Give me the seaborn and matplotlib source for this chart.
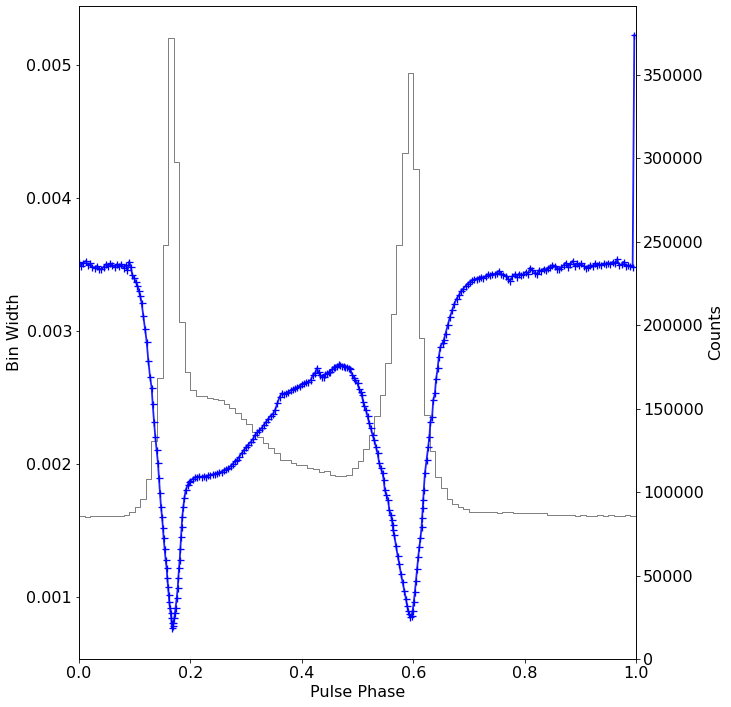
import numpy as np
import pandas as pd
import seaborn as sns
import matplotlib.pyplot as plt

# gray step curve: bin width in 100 phase bins
bin_edges = np.linspace(0, 1, 101)
bin_width = [0.00161, 0.00160, 0.00161, 0.00161, 0.00161, 0.00161, 0.00161, 0.00161, 0.00162, 0.00164,
             0.00168, 0.00174, 0.00189, 0.00217, 0.00265, 0.00365, 0.00520, 0.00427, 0.00307, 0.00269,
             0.00256, 0.00251, 0.00251, 0.00250, 0.00249, 0.00248, 0.00245, 0.00242, 0.00238, 0.00234,
             0.00230, 0.00224, 0.00220, 0.00216, 0.00212, 0.00208, 0.00203, 0.00203, 0.00201, 0.00199,
             0.00199, 0.00197, 0.00196, 0.00194, 0.00195, 0.00192, 0.00191, 0.00191, 0.00192, 0.00197,
             0.00202, 0.00211, 0.00222, 0.00236, 0.00252, 0.00276, 0.00313, 0.00365, 0.00434, 0.00494,
             0.00422, 0.00295, 0.00237, 0.00210, 0.00190, 0.00182, 0.00174, 0.00170, 0.00168, 0.00166,
             0.00164, 0.00164, 0.00164, 0.00164, 0.00164, 0.00163, 0.00164, 0.00164, 0.00163, 0.00163,
             0.00163, 0.00163, 0.00163, 0.00163, 0.00162, 0.00162, 0.00162, 0.00162, 0.00162, 0.00161,
             0.00162, 0.00161, 0.00161, 0.00162, 0.00161, 0.00162, 0.00161, 0.00161, 0.00162, 0.00161]

# blue curve: counts per phase bin
phase = [0.000, 0.004, 0.008, 0.012, 0.016, 0.020, 0.024, 0.028, 0.032, 0.036,
         0.040, 0.044, 0.048, 0.052, 0.056, 0.060, 0.064, 0.068, 0.072, 0.076,
         0.080, 0.084, 0.087, 0.090, 0.093, 0.0957, 0.0987, 0.1018, 0.1047, 0.1077,
         0.1100, 0.1125, 0.1155, 0.1185, 0.1215, 0.1245, 0.1275, 0.1305, 0.1323, 0.1347,
         0.1370, 0.1395, 0.1418, 0.1436, 0.1454, 0.1472, 0.1490, 0.1508, 0.1520, 0.1538,
         0.1556, 0.1574, 0.1586, 0.1598, 0.1610, 0.1621, 0.1634, 0.1646, 0.1657, 0.1664,
         0.1670, 0.1682, 0.1694, 0.1712, 0.1723, 0.1736, 0.1754, 0.1772, 0.1783, 0.1795,
         0.1808, 0.1819, 0.1831, 0.1843, 0.1855, 0.1873, 0.1891, 0.1916, 0.1951, 0.1975,
         0.200, 0.204, 0.208, 0.212, 0.216, 0.220, 0.224, 0.228, 0.232, 0.236,
         0.240, 0.244, 0.248, 0.252, 0.256, 0.260, 0.264, 0.268, 0.272, 0.276,
         0.280, 0.284, 0.288, 0.292, 0.296, 0.300, 0.304, 0.308, 0.312, 0.316,
         0.320, 0.324, 0.328, 0.332, 0.336, 0.340, 0.344, 0.348, 0.352, 0.356,
         0.360, 0.364, 0.368, 0.372, 0.376, 0.380, 0.384, 0.388, 0.392, 0.396,
         0.400, 0.404, 0.408, 0.412, 0.416, 0.420, 0.424, 0.427, 0.430, 0.433,
         0.436, 0.439, 0.442, 0.445, 0.448, 0.451, 0.454, 0.457, 0.460, 0.463,
         0.466, 0.469, 0.472, 0.475, 0.478, 0.481, 0.484, 0.487, 0.491, 0.4935,
         0.496, 0.500, 0.503, 0.5055, 0.508, 0.510, 0.5125, 0.515, 0.518, 0.521,
         0.524, 0.527, 0.530, 0.533, 0.536, 0.539, 0.542, 0.545, 0.547, 0.549,
         0.552, 0.555, 0.557, 0.560, 0.562, 0.563, 0.564, 0.566, 0.569, 0.572,
         0.575, 0.578, 0.581, 0.584, 0.587, 0.589, 0.591, 0.593, 0.595, 0.597,
         0.599, 0.601, 0.603, 0.605, 0.607, 0.609, 0.611, 0.613, 0.615, 0.616,
         0.617, 0.618, 0.619, 0.621, 0.624, 0.627, 0.629, 0.631, 0.634, 0.636,
         0.639, 0.641, 0.644, 0.646, 0.649, 0.653, 0.655, 0.658, 0.662, 0.666,
         0.670, 0.674, 0.678, 0.682, 0.686, 0.690, 0.694, 0.698, 0.702, 0.706,
         0.710, 0.714, 0.718, 0.722, 0.726, 0.730, 0.734, 0.738, 0.742, 0.746,
         0.750, 0.754, 0.758, 0.762, 0.766, 0.770, 0.774, 0.778, 0.782, 0.786,
         0.790, 0.794, 0.798, 0.802, 0.806, 0.810, 0.814, 0.818, 0.822, 0.826,
         0.830, 0.834, 0.838, 0.842, 0.846, 0.850, 0.854, 0.858, 0.862, 0.866,
         0.870, 0.874, 0.878, 0.882, 0.886, 0.890, 0.894, 0.898, 0.902, 0.906,
         0.910, 0.914, 0.918, 0.922, 0.926, 0.930, 0.934, 0.938, 0.942, 0.946,
         0.950, 0.954, 0.958, 0.962, 0.966, 0.970, 0.974, 0.978, 0.982, 0.986,
         0.990, 0.994, 0.997]

counts = [238000, 235500, 237500, 238500, 236000, 237000, 235000, 234500, 235500, 234000,
          233500, 235000, 236500, 235500, 237000, 236000, 235000, 236500, 235500, 236500,
          234500, 236000, 233000, 238100, 235100, 230100, 228200, 226100, 223800, 220500,
          217500, 213200, 205600, 197600, 190200, 178600, 169200, 162200, 152800, 142200,
          133200, 125200, 117300, 108300, 99300, 91300, 85300, 78300, 72300, 65700,
          59300, 54300, 48300, 43300, 38400, 34300, 30400, 27400, 24400, 21400,
          18400, 19500, 21400, 24400, 27400, 30400, 36400, 42400, 48300, 54300,
          59300, 65700, 73300, 79300, 85300, 91300, 96300, 101300, 104300, 105800,
          106700, 108000, 108900, 109200, 109400, 109000, 109600, 109300, 110000, 110300,
          110600, 111000, 111300, 111800, 112300, 113000, 113600, 114500, 115500, 117000,
          118500, 119500, 121300, 123300, 125300, 127000, 128500, 130000, 131700, 134200,
          135800, 137000, 138500, 140500, 142200, 144000, 145800, 146800, 149200, 153200,
          157000, 159200, 158500, 159500, 160200, 161000, 161500, 162200, 163000, 163800,
          164800, 165200, 165800, 166200, 167200, 170200, 171500, 174200, 172000, 170200,
          169000, 169200, 170500, 171200, 171800, 172200, 173500, 174800, 175200, 175600,
          176500, 176200, 175800, 175600, 175000, 175200, 174500, 173600, 170200, 168500,
          167200, 165200, 161600, 160000, 158200, 154200, 151500, 149200, 145600, 141200,
          138200, 134200, 131200, 127300, 123300, 117300, 114300, 111300, 107500, 101300,
          98300, 95300, 89300, 86300, 83300, 80300, 77300, 74300, 68000, 62000,
          57000, 51000, 46000, 41000, 36000, 32000, 29000, 27000, 25000, 26000,
          29000, 34000, 40000, 47000, 54000, 61000, 67000, 72300, 79000, 84300,
          90300, 95300, 101300, 111300, 119300, 127300, 133200, 142200, 145200, 155200,
          159200, 167600, 174200, 181200, 187200, 189600, 191200, 195000, 200000, 205000,
          209000, 213000, 216000, 218000, 220500, 222000, 223500, 225000, 226000, 227000,
          227500, 228000, 228500, 229000, 228500, 229500, 230500, 230100, 231000, 230500,
          231500, 232500, 231000, 230000, 229500, 228000, 226700, 229500, 230500, 229000,
          231000, 230000, 230500, 232000, 231000, 234500, 233000, 231500, 230700, 233000,
          232500, 234000, 233000, 234500, 235000, 236000, 235500, 234000, 233500, 235000,
          236000, 237500, 235000, 236500, 238500, 235500, 237000, 236000, 237000, 235500,
          234500, 235000, 236000, 235500, 237000, 236000, 236500, 236000, 237000, 236500,
          237500, 236500, 238000, 237000, 239500, 236000, 236500, 238000, 235500, 236000,
          235500, 235000, 374000]

plt.rcParams['font.size'] = 16

fig = plt.figure(figsize=(731 / 72, 707 / 72), dpi=72)
ax = fig.add_axes([79 / 731, 48 / 707, 557 / 731, 653 / 707])

# bin width as a step line (left axis)
sns.lineplot(x=bin_edges, y=bin_width + [bin_width[-1]], drawstyle='steps-post',
             color='gray', lw=1, ax=ax)
ax.set_xlim(0, 1)
ax.set_ylim(0.000534, 0.005444)
ax.set_xlabel('Pulse Phase')
ax.set_ylabel('Bin Width')

# counts (right axis)
ax2 = ax.twinx()
sns.lineplot(x=phase, y=counts, color='#1f1fff', lw=1.8, marker='+', markersize=7,
             markeredgewidth=1.3, markeredgecolor='blue', ax=ax2)
ax2.set_ylim(0, 391300)
ax2.set_ylabel('Counts')

ax.tick_params(labelsize=16)
ax2.tick_params(labelsize=16)

plt.savefig('out.png', dpi=72)
